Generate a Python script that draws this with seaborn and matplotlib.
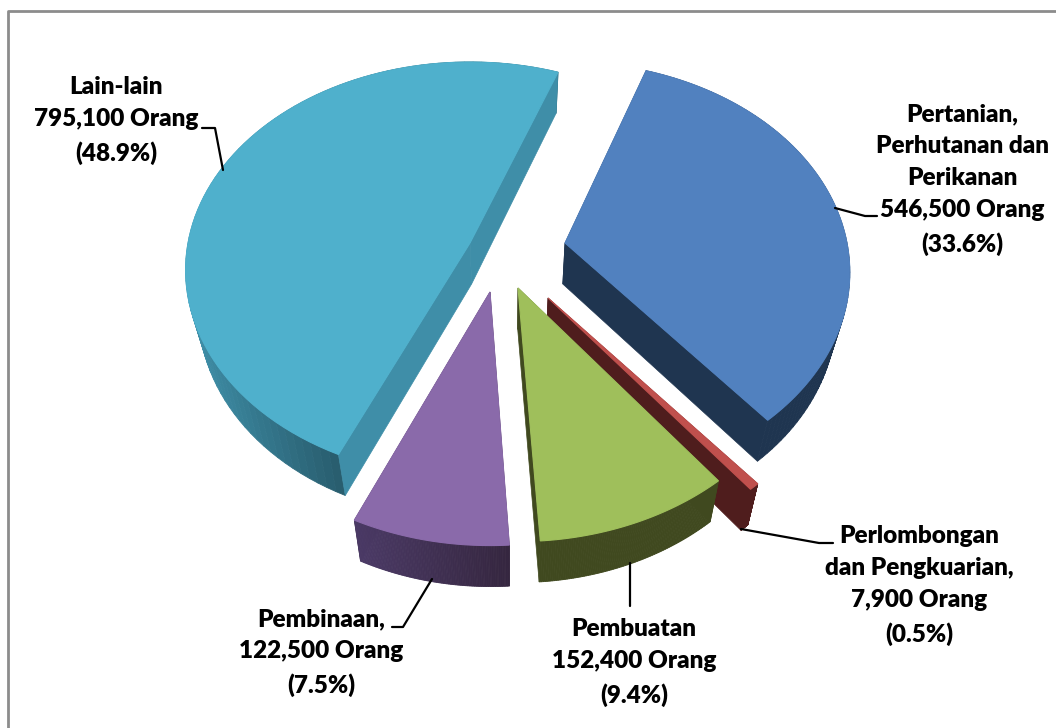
#!/usr/bin/env python
# coding: utf8

""" Sektor pekerjaan - exploded 3D pie. """

import numpy as np
import seaborn as sns
from matplotlib import pyplot as plt
from matplotlib import colors as mcolors

# data, clockwise from the top edge of the blue slice
sectors = ['Pertanian,\nPerhutanan dan\nPerikanan', 'Perlombongan\ndan Pengkuarian,',
           'Pembuatan', 'Pembinaan,', 'Lain-lain']
persons = [546500, 7900, 152400, 122500, 795100]
percent = [33.6, 0.5, 9.4, 7.5, 48.9]

# look of each slice
top_colors = ['#5181bf', '#c0504d', '#9fbf5b', '#8a6aaa', '#4fb0cc']
arc_left = ['#1f3550', '#4f1d1d', '#40491f', '#4b3a66', '#3f8fa8']
arc_right = ['#1f3550', '#4f1d1d', '#40491f', '#35263f', '#285c6d']
wall_colors = ['#1f3550', '#4f1d1d', '#40491f', '#35263f', '#3f8ea8']

# where each slice tip sits and how the slice is tilted
tip_x = [565, 548, 518, 490, 470]
tip_y = [243, 298, 288, 292, 243]
turn = [2, 2, 2.5, 3, 3.5]
persp = [0.14, 0.167, 0.167, 0.167, 0.13]
radius_x = [282, 285, 285, 285, 282]

START = 17
RY_BACK = 181
DEPTH = 41
SHRINK = 0.96
MID_X = 510


def top_point(i, phi):
    rad = np.radians(phi)
    u, v = np.sin(rad), np.cos(rad)
    p = persp[i]
    w = 1 + p * v
    return tip_x[i] + radius_x[i] * u / w, tip_y[i] - RY_BACK * (1 + p) * v / w


def drop(x, y):
    return MID_X + (np.asarray(x) - MID_X) * SHRINK, np.asarray(y) + DEPTH


sns.set_theme(style='white')
plt.rcParams['font.family'] = ['Lato', 'DejaVu Sans']

fig = plt.figure(figsize=(10.56, 7.28), dpi=100)
ax = fig.add_axes([0, 0, 1, 1])
ax.set_xlim(0, 1056)
ax.set_ylim(728, 0)
ax.axis('off')

# frame
ax.plot([8, 8, 1056], [728, 11, 11], color='#8c8c8c', lw=2, solid_capstyle='butt')

# walls first and top face last, slice by slice
spans = np.array(percent) / sum(percent) * 360
begins = START + np.concatenate([[0], np.cumsum(spans)[:-1]])
for i in [4, 0, 1, 3, 2]:
    phi = np.linspace(begins[i] + turn[i], begins[i] + turn[i] + spans[i], 90)
    xs, ys = top_point(i, phi)
    bx, by = drop(xs, ys)
    tx, ty = tip_x[i], tip_y[i]
    btx, bty = drop(tx, ty)

    # straight walls that face away go under the curved wall
    facing = [np.sin(np.radians(phi[0])) < 0, np.sin(np.radians(phi[-1])) > 0]
    for j, front in zip([0, -1], facing):
        if not front:
            ax.fill([tx, xs[j], bx[j], btx], [ty, ys[j], by[j], bty], color=wall_colors[i], lw=0.5)

    # curved wall, shaded from left to right
    left, right = np.array(mcolors.to_rgb(arc_left[i])), np.array(mcolors.to_rgb(arc_right[i]))
    for j in range(len(phi) - 1):
        t = (0.5 * (xs[j] + xs[j + 1]) - xs.min()) / (xs[0] - xs.min())
        c = tuple(left + (right - left) * np.clip(t, 0, 1))
        ax.fill([xs[j], xs[j + 1], bx[j + 1], bx[j]], [ys[j], ys[j + 1], by[j + 1], by[j]],
                color=c, lw=0.6)

    for j, front in zip([0, -1], facing):
        if front:
            ax.fill([tx, xs[j], bx[j], btx], [ty, ys[j], by[j], bty], color=wall_colors[i], lw=0.5)

    ax.fill(np.r_[tx, xs], np.r_[ty, ys], color=top_colors[i], lw=0.8)

# leader lines
leaders = [([202, 215, 223], [128, 128, 170]),
           ([835, 865, 877], [208, 216, 216]),
           ([741, 819, 833], [529, 543, 543]),
           ([630, 630], [563, 606]),
           ([432, 403, 392], [579, 627, 627])]
for lx, ly in leaders:
    ax.plot(lx, ly, color='black', lw=1.6)

# labels
label_x = [962, 919, 634, 321, 116]
label_y = [103, 525, 618, 608, 76]
for i in range(len(sectors)):
    text = '{}\n{:,} Orang\n({}%)'.format(sectors[i], persons[i], percent[i])
    ax.text(label_x[i], label_y[i], text, ha='center', va='top', fontsize=17.5,
            fontweight='heavy', color='black', linespacing=1.56)

plt.savefig('out.png', dpi=100)
plt.close()
